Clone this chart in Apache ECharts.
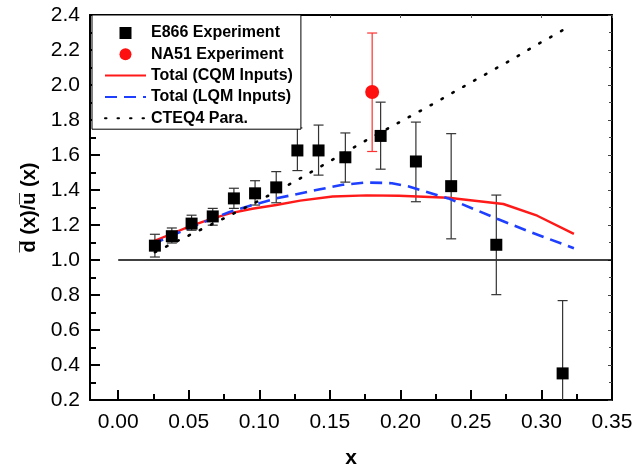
<!DOCTYPE html>
<html>
<head>
<meta charset="utf-8">
<script src="https://cdn.jsdelivr.net/npm/echarts@6/dist/echarts.min.js"></script>
<style>
html,body{margin:0;padding:0;background:#fff;}
#chart{width:636px;height:474px;}
</style>
</head>
<body>
<div id="chart"></div>
<script>
// ---- data ----
const e866X   = [0.026,0.038,0.052,0.067,0.082,0.097,0.112,0.127,0.142,0.161,0.186,0.211,0.236,0.268,0.315];
const e866Y   = [1.082,1.136,1.208,1.249,1.352,1.381,1.415,1.626,1.626,1.587,1.709,1.563,1.422,1.087,0.352];
const e866Lo  = [1.017,1.097,1.170,1.199,1.295,1.314,1.327,1.511,1.485,1.445,1.519,1.333,1.121,0.802,0.000];
const e866Hi  = [1.147,1.183,1.256,1.295,1.410,1.453,1.505,1.755,1.771,1.726,1.902,1.788,1.722,1.371,0.768];

const na51X  = [0.180];
const na51Y  = [1.960];
const na51Lo = [1.620];
const na51Hi = [2.297];

const cqmX = [0.024,0.038,0.051,0.065,0.079,0.095,0.112,0.129,0.152,0.176,0.199,0.234,0.273,0.297,0.323];
const cqmY = [1.103,1.150,1.193,1.232,1.266,1.293,1.314,1.339,1.363,1.369,1.367,1.356,1.320,1.253,1.149];

const lqmX = [0.024,0.051,0.079,0.097,0.112,0.143,0.159,0.176,0.194,0.206,0.234,0.269,0.2925,0.323];
const lqmY = [1.090,1.185,1.275,1.318,1.352,1.404,1.430,1.443,1.439,1.420,1.352,1.234,1.159,1.067];

const cteqX = [0.026,0.050,0.080,0.100,0.125,0.150,0.175,0.200,0.225,0.250,0.275,0.300,0.320];
const cteqY = [1.045,1.140,1.258,1.340,1.448,1.565,1.680,1.790,1.900,2.015,2.127,2.245,2.335];

const refX = [0.0, 0.35];
const refY = [1.0, 1.0];

const xMajorTicks = [0,0.05,0.10,0.15,0.20,0.25,0.30,0.35];
const xMinorTicks = [0.025,0.075,0.125,0.175,0.225,0.275,0.325];

const names = ['E866 Experiment','NA51 Experiment','Total (CQM Inputs)','Total (LQM Inputs)','CTEQ4 Para.'];

// ---- helpers ----
const zip = (a,b) => a.map((v,i)=>[v,b[i]]);
const zip3 = (a,b,c) => a.map((v,i)=>[v,b[i],c[i]]);
const FONT = 'Liberation Sans, Arial, Helvetica, sans-serif';

function errRenderer(color, width){
  return function(params, api){
    const x = api.value(0), lo = api.value(1), hi = api.value(2);
    const pLo = api.coord([x, lo]);
    const pHi = api.coord([x, hi]);
    const hw = 5;
    const st = {stroke: color, lineWidth: width, fill: null};
    return {type:'group', children:[
      {type:'line', shape:{x1:pLo[0], y1:pLo[1], x2:pHi[0], y2:pHi[1]}, style:st},
      {type:'line', shape:{x1:pLo[0]-hw, y1:pLo[1], x2:pLo[0]+hw, y2:pLo[1]}, style:st},
      {type:'line', shape:{x1:pHi[0]-hw, y1:pHi[1], x2:pHi[0]+hw, y2:pHi[1]}, style:st}
    ]};
  };
}

const chart = echarts.init(document.getElementById('chart'), null, {renderer:'canvas'});

const axisLine = {show:true, onZero:false, lineStyle:{color:'#000', width:2}};
const noSym = {color:'rgba(0,0,0,0)', borderWidth:0};

chart.setOption({
  animation:false,
  backgroundColor:'#fff',
  textStyle:{fontFamily:FONT},
  grid:{left:90, right:24, top:15, bottom:74, containLabel:false},
  legend:{
    data:[
      {name:names[0], icon:'path://M0,0L10,0L10,10L0,10Z', symbolKeepAspect:true},
      {name:names[1], icon:'circle'},
      {name:names[2], itemStyle:noSym},
      {name:names[3], itemStyle:noSym},
      {name:names[4], itemStyle:noSym}
    ],
    orient:'vertical',
    left:92, top:15,
    padding:[10,8,3,12],
    itemWidth:41, itemHeight:12, itemGap:5.3,
    symbolKeepAspect:true,
    backgroundColor:'#fff',
    borderColor:'#000', borderWidth:1, borderRadius:0,
    textStyle:{fontFamily:FONT, fontSize:16, fontWeight:'bold', color:'#000'},
    selectedMode:false,
    z:10
  },
  xAxis:[
    {type:'value', min:-0.02, max:0.35, position:'bottom',
     axisLine:axisLine,
     axisTick:{show:true, inside:true, length:10, lineStyle:{color:'#000', width:2}, customValues:xMajorTicks},
     axisLabel:{show:true, customValues:xMajorTicks, formatter:v=>v.toFixed(2), fontSize:21, color:'#000', fontFamily:FONT, margin:12},
     splitLine:{show:false},
     name:'x', nameLocation:'middle', nameGap:48,
     nameTextStyle:{fontSize:21, fontWeight:'bold', color:'#000', fontFamily:FONT}
    },
    {type:'value', min:-0.02, max:0.35, position:'bottom',
     axisLine:{show:false},
     axisTick:{show:true, inside:true, length:6, lineStyle:{color:'#000', width:2}, customValues:xMinorTicks},
     axisLabel:{show:false}, splitLine:{show:false}
    },
    {type:'value', min:-0.02, max:0.35, position:'top',
     axisLine:axisLine,
     axisTick:{show:true, inside:true, length:3, lineStyle:{color:'#555', width:1}, customValues:xMajorTicks},
     axisLabel:{show:false}, splitLine:{show:false}
    }
  ],
  yAxis:[
    {type:'value', min:0.2, max:2.4, interval:0.2, position:'left',
     axisLine:axisLine,
     axisTick:{show:true, inside:true, length:10, lineStyle:{color:'#000', width:2}},
     minorTick:{show:true, splitNumber:2, length:6, lineStyle:{color:'#000', width:2}},
     axisLabel:{fontSize:21, color:'#000', fontFamily:FONT, margin:10, formatter:v=>v.toFixed(1)},
     splitLine:{show:false}, minorSplitLine:{show:false},
     name:'d\u0305 (x)/u\u0305 (x)', nameLocation:'middle', nameGap:50, nameRotate:90,
     nameTextStyle:{fontSize:20, fontWeight:'bold', color:'#000', fontFamily:FONT}
    },
    {type:'value', min:0.2, max:2.4, interval:0.2, position:'right',
     axisLine:axisLine,
     axisTick:{show:true, inside:true, length:4, lineStyle:{color:'#444', width:1}},
     minorTick:{show:true, splitNumber:2, length:3, lineStyle:{color:'#444', width:1}},
     axisLabel:{show:false}, splitLine:{show:false}, minorSplitLine:{show:false}
    }
  ],
  series:[
    {name:'ref', type:'line', data:zip(refX, refY), symbol:'none',
     lineStyle:{color:'#000', width:1.5}, silent:true, z:1},
    {name:'E866 err', type:'custom', data:zip3(e866X,e866Lo,e866Hi),
     renderItem:errRenderer('#333', 1.2), clip:true, z:3, silent:true},
    {name:'NA51 err', type:'custom', data:zip3(na51X,na51Lo,na51Hi),
     renderItem:errRenderer('#ff3030', 1.2), clip:true, z:3, silent:true},
    {name:names[2], type:'line', data:zip(cqmX,cqmY), symbol:'none', smooth:false,
     itemStyle:{color:'#ff1a1a'}, lineStyle:{color:'#ff1a1a', width:2.4}, z:4},
    {name:names[3], type:'line', data:zip(lqmX,lqmY), symbol:'none', smooth:false,
     itemStyle:{color:'#1f3fff'}, lineStyle:{color:'#1f3fff', width:2.6, type:[12,7]}, z:4},
    {name:names[4], type:'line', data:zip(cteqX,cteqY), symbol:'none', smooth:false,
     itemStyle:{color:'#000'}, lineStyle:{color:'#000', width:2.6, type:[1.5,11], cap:'round'}, z:4},
    {name:names[0], type:'scatter', data:zip(e866X,e866Y), symbol:'rect', symbolSize:12,
     itemStyle:{color:'#000', opacity:1}, z:6},
    {name:names[1], type:'scatter', data:zip(na51X,na51Y), symbol:'circle', symbolSize:14,
     itemStyle:{color:'#ff1010', opacity:1}, z:6}
  ]
});
</script>
</body>
</html>
